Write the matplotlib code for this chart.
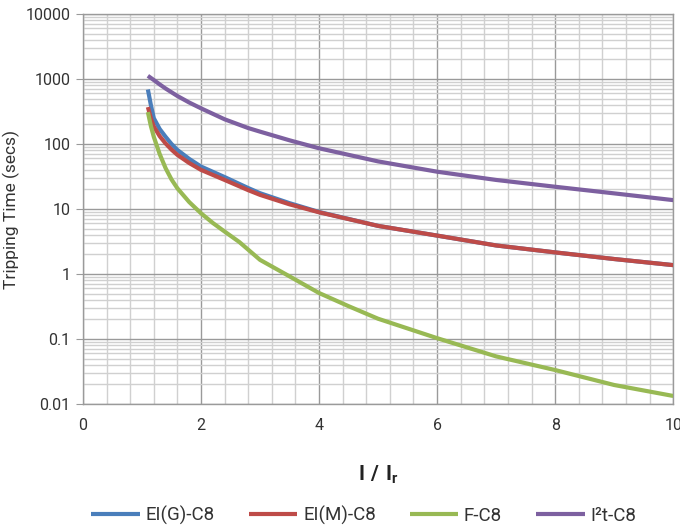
import numpy as np
import matplotlib
matplotlib.use('Agg')
import matplotlib.pyplot as plt
from matplotlib.ticker import FixedLocator, NullFormatter

plt.rcParams['font.family'] = ['Roboto', 'DejaVu Sans']
plt.rcParams['mathtext.fontset'] = 'custom'
plt.rcParams['mathtext.rm'] = 'Roboto'
plt.rcParams['mathtext.bf'] = 'Roboto:bold'

# data (I/Ir, seconds)
x_eig = [1.1, 1.15, 1.2, 1.3, 1.4, 1.5, 1.6, 1.8, 2.0, 2.4, 2.8, 3.0, 3.5, 4.0, 5.0, 6.0, 7.0, 8.0, 9.0, 10.0]
t_eig = [690, 400, 250, 170, 129, 100, 81, 59, 45, 31, 21, 17.5, 12.3, 9.0, 5.5, 3.9, 2.75, 2.15, 1.7, 1.37]

x_eim = [1.1, 1.15, 1.2, 1.3, 1.4, 1.5, 1.6, 1.8, 2.0, 2.4, 2.8, 3.0, 3.5, 4.0, 5.0, 6.0, 7.0, 8.0, 9.0, 10.0]
t_eim = [370, 250, 186, 132, 102, 82, 68, 51, 40, 28, 19.5, 16.5, 11.8, 8.9, 5.5, 3.9, 2.75, 2.15, 1.7, 1.37]

x_f = [1.1, 1.15, 1.2, 1.3, 1.4, 1.5, 1.6, 1.8, 2.0, 2.2, 2.4, 2.65, 3.0, 3.5, 4.0, 4.5, 5.0, 6.0, 7.0, 8.0, 9.0, 10.0]
t_f = [310, 190, 129, 70, 42.5, 28.5, 20.8, 12.8, 8.6, 6.1, 4.5, 3.1, 1.65, 0.92, 0.51, 0.32, 0.205, 0.103, 0.054, 0.0333, 0.0196, 0.0133]

x_i2t = [1.1, 1.2, 1.3, 1.4, 1.6, 1.8, 2.0, 2.4, 2.8, 3.0, 3.5, 4.0, 5.0, 6.0, 7.0, 8.0, 9.0, 10.0]
t_i2t = [1120, 965, 826, 714, 548, 435, 354, 240, 176, 155, 114, 86, 54, 37.5, 28, 22, 17.4, 13.7]

series_names = ['EI(G)-C8', 'EI(M)-C8', 'F-C8', 'I²t-C8']
series_colors = ['#4a7ebb', '#be4b48', '#98b954', '#7d60a0']

y_ticks = [0.01, 0.1, 1, 10, 100, 1000, 10000]
y_ticklabels = ['0.01', '0.1', '1', '10', '100', '1000', '10000']
x_ticks = [0, 2, 4, 6, 8, 10]

fig = plt.figure(figsize=(6.8, 5.29), dpi=100)
ax = fig.add_axes([0.122, 0.2363, 0.868, 0.7372])

for xs, ts, name, c in zip([x_eig, x_eim, x_f, x_i2t], [t_eig, t_eim, t_f, t_i2t],
                           series_names, series_colors):
    ax.plot(xs, ts, color=c, lw=3, label=name, solid_capstyle='butt',
            solid_joinstyle='round', zorder=3)

ax.set_yscale('log')
ax.set_xlim(0, 10)
ax.set_ylim(0.01, 10000)

# grid: minor lines first, majors darker on top
minor_y = [m * 10.0 ** e for e in range(-2, 4) for m in range(2, 10)]
ax.yaxis.set_major_locator(FixedLocator(y_ticks))
ax.yaxis.set_minor_locator(FixedLocator(minor_y))
ax.yaxis.set_minor_formatter(NullFormatter())
ax.set_yticklabels(y_ticklabels)
ax.xaxis.set_major_locator(FixedLocator(x_ticks))
ax.xaxis.set_minor_locator(FixedLocator(np.arange(0.4, 10, 0.4)))

ax.grid(which='minor', color='#d0d0d0', lw=1.0)
ax.grid(which='major', color='#9a9a9a', lw=1.0)
ax.set_axisbelow(True)

ax.tick_params(axis='y', which='major', length=5, color='#9a9a9a', labelsize=11.5,
               labelcolor='#333333', pad=4)
ax.tick_params(axis='y', which='minor', length=0)
ax.tick_params(axis='x', which='both', length=0, labelsize=11.5, labelcolor='#333333', pad=10)

for s in ['left', 'right', 'bottom', 'top']:
    ax.spines[s].set_color('#9a9a9a')
    ax.spines[s].set_linewidth(1.0)

ax.set_ylabel('Tripping Time (secs)', fontsize=12.5, color='#333333')
ax.yaxis.set_label_coords(-0.107, 0.5)
ax.set_xlabel(r'$\mathbf{I\ /\ I_r}$', fontsize=15, color='#222222', labelpad=22)

fig.legend(loc='center', bbox_to_anchor=(0.535, 0.026), ncol=4, frameon=False,
           fontsize=13.5, handlelength=2.6, handletextpad=0.3, columnspacing=1.8,
           labelcolor='#333333')

fig.savefig('out.png', dpi=100)
